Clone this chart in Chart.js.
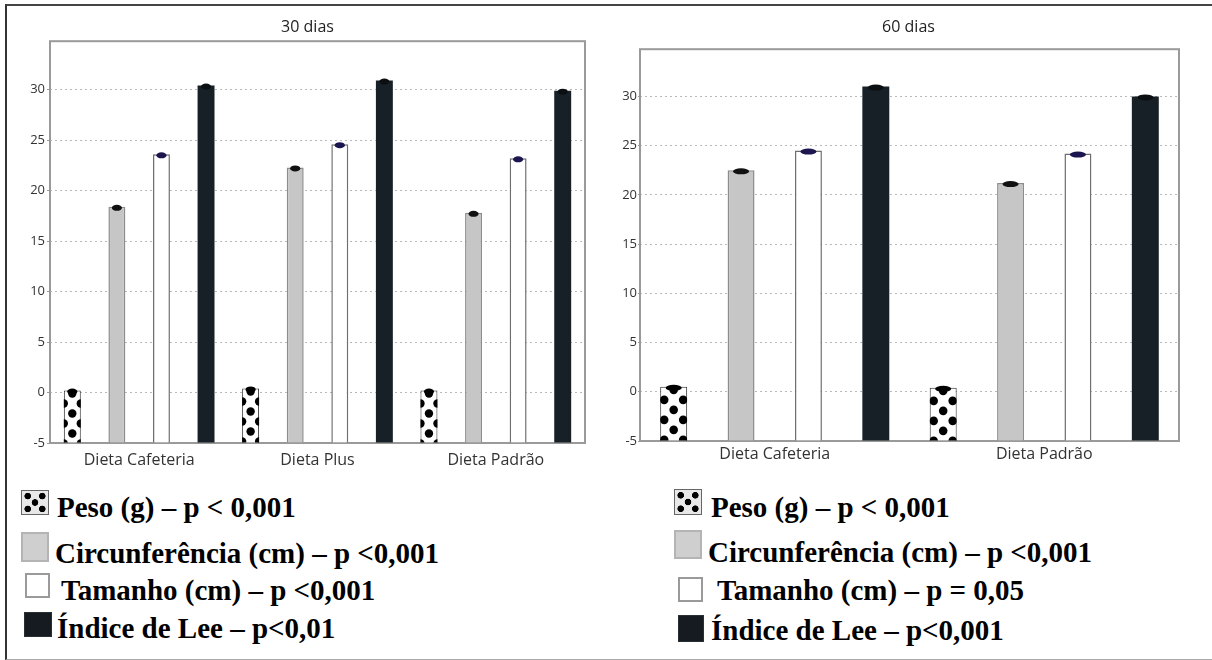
<!DOCTYPE html>
<html lang="pt">
<head>
<meta charset="utf-8">
<title>30 e 60 dias</title>
<script src="https://cdn.jsdelivr.net/npm/chart.js@4.4.1/dist/chart.umd.min.js"></script>
<style>
  html, body { margin: 0; padding: 0; background: #fff; }
  body { width: 1212px; height: 660px; position: relative; overflow: hidden; }
  #frame {
    position: absolute; left: 5px; top: 4px; width: 1240px; height: 653px;
    border-top: 2px solid #444; border-left: 2px solid #333; border-bottom: 1px solid #aaa;
  }
  canvas { position: absolute; top: 0; }
  #chart30 { left: 0; }
  #chart60 { left: 600px; }
  .leg {
    position: absolute; white-space: nowrap; color: #000;
    font-family: "Liberation Serif", "Times New Roman", serif;
    font-weight: bold; font-size: 29px; line-height: 29px;
  }
  .sw { position: absolute; box-sizing: border-box; }
  .sw.peso {
    border: 1px solid #666; background-color: #e8e8e8;
    background-image:
      radial-gradient(circle at 22% 22%, #000 3px, transparent 3.6px),
      radial-gradient(circle at 78% 22%, #000 3px, transparent 3.6px),
      radial-gradient(circle at 50% 50%, #000 3px, transparent 3.6px),
      radial-gradient(circle at 22% 78%, #000 3px, transparent 3.6px),
      radial-gradient(circle at 78% 78%, #000 3px, transparent 3.6px);
  }
  .sw.circ { border: 2px solid #b4b4b4; background: #cfcfcf; }
  .sw.tam { border: 2px solid #9a9a9a; background: #fff; }
  .sw.lee { border: 1px solid #2a2f33; background: #151b20; }
</style>
</head>
<body>
<div id="frame"></div>
<canvas id="chart30" width="600" height="480"></canvas>
<canvas id="chart60" width="612" height="480"></canvas>
<div id="legend"></div>

<script>
// categorias
const GROUPS_30 = ['Dieta Cafeteria', 'Dieta Plus', 'Dieta Padrão'];
const GROUPS_60 = ['Dieta Cafeteria', 'Dieta Padrão'];
const SERIES = ['Peso (g)', 'Circunferência (cm)', 'Tamanho (cm)', 'Índice de Lee'];

// valores - 30 dias
const PESO_30 = [0.2, 0.4, 0.2];
const CIRC_30 = [18.4, 22.3, 17.8];
const TAM_30 = [23.6, 24.6, 23.2];
const LEE_30 = [30.4, 30.9, 29.9];

// valores - 60 dias
const PESO_60 = [0.5, 0.4];
const CIRC_60 = [22.5, 21.2];
const TAM_60 = [24.5, 24.2];
const LEE_60 = [31.0, 30.0];

// eixo y
const Y_TICKS = [-5, 0, 5, 10, 15, 20, 25, 30];
const Y_MIN = -5;
const Y_MAX = 34.8;

// legendas
const LEGEND_30 = ['Peso (g) – p < 0,001', 'Circunferência (cm) – p <0,001', 'Tamanho (cm) – p <0,001', 'Índice de Lee – p<0,01'];
const LEGEND_60 = ['Peso (g) – p < 0,001', 'Circunferência (cm) – p <0,001', 'Tamanho (cm) – p = 0,05', 'Índice de Lee – p<0,001'];

// estilo de cada série
const seriesStyle = [
  { bg: '#ffffff', border: '#2a2a2a', bw: 1, cap: '#000000' },
  { bg: '#c6c6c6', border: '#8c8c8c', bw: 1.5, cap: '#111111' },
  { bg: '#ffffff', border: '#6e6e6e', bw: 1.5, cap: '#1c1650' },
  { bg: '#172026', border: '#172026', bw: 0, cap: '#0b0f12' }
];

// o eixo y é estreito: alarga a área de recorte dos rótulos
const labelAreaPlugin = {
  id: 'labelArea',
  afterLayout(chart) {
    chart.scales.y.left = 0;
  }
};

// moldura da área do gráfico
const framePlugin = {
  id: 'frame',
  beforeDatasetsDraw(chart) {
    const a = chart.chartArea;
    const ctx = chart.ctx;
    ctx.save();
    ctx.strokeStyle = '#9a9a9a';
    ctx.lineWidth = 2;
    ctx.strokeRect(a.left, a.top, a.right - a.left, a.bottom - a.top);
    ctx.restore();
  }
};

// bolinhas da série Peso
const dotsPlugin = {
  id: 'dots',
  afterDatasetDraw(chart, args, opts) {
    if (args.index !== 0) return;
    const ctx = chart.ctx;
    args.meta.data.forEach(bar => {
      const w = bar.width;
      const left = bar.x - w / 2;
      ctx.save();
      ctx.beginPath();
      ctx.rect(left, bar.y, w, bar.base - bar.y);
      ctx.clip();
      ctx.fillStyle = '#000';
      for (let k = 0; bar.y + 3 + k * 10 < bar.base + 6; k++) {
        const cy = bar.y + 3 + k * 10;
        const xs = k % 2 === 0 ? [bar.x - opts.dx, bar.x, bar.x + opts.dx] : [bar.x - opts.dx / 2, bar.x + opts.dx / 2];
        xs.forEach(cx => {
          ctx.beginPath();
          ctx.arc(cx, cy, opts.r, 0, Math.PI * 2);
          ctx.fill();
        });
      }
      ctx.restore();
    });
  }
};

// marcas de erro no topo das barras
const capPlugin = {
  id: 'caps',
  afterDatasetsDraw(chart) {
    const ctx = chart.ctx;
    chart.data.datasets.forEach((ds, i) => {
      const meta = chart.getDatasetMeta(i);
      meta.data.forEach(bar => {
        ctx.save();
        ctx.fillStyle = seriesStyle[i].cap;
        ctx.beginPath();
        ctx.ellipse(bar.x, bar.y + 1, bar.width * 0.3, 3, 0, 0, Math.PI * 2);
        ctx.fill();
        ctx.restore();
      });
    });
  }
};

function buildChart(id, cfg) {
  const datasets = cfg.values.map((vals, i) => ({
    label: SERIES[i],
    data: vals,
    base: Y_MIN,
    backgroundColor: seriesStyle[i].bg,
    borderColor: seriesStyle[i].border,
    borderWidth: seriesStyle[i].bw,
    barPercentage: cfg.barPct,
    categoryPercentage: 1
  }));

  return new Chart(document.getElementById(id), {
    type: 'bar',
    data: { labels: cfg.labels, datasets: datasets },
    plugins: [labelAreaPlugin, framePlugin, dotsPlugin, capPlugin],
    options: {
      responsive: false,
      animation: false,
      layout: { padding: cfg.padding },
      plugins: {
        legend: { display: false },
        tooltip: { enabled: false },
        title: {
          display: true,
          text: cfg.title,
          color: '#222',
          font: { family: 'Open Sans', size: 16, weight: 'normal' },
          padding: { top: 8, bottom: cfg.titleGap }
        },
        dots: { r: cfg.dotR, dx: cfg.dotDx }
      },
      scales: {
        x: {
          grid: { display: false, drawTicks: false },
          border: { display: false },
          ticks: {
            color: '#333',
            font: { family: 'Open Sans', size: 16 },
            padding: cfg.xPad
          },
          afterFit: function(scale) { scale.height = 30; }
        },
        y: {
          min: Y_MIN,
          max: Y_MAX,
          grid: { color: '#b8b8b8', lineWidth: 1, tickLength: cfg.tickLen, tickColor: '#999' },
          border: { display: false, dash: [2, 3] },
          ticks: {
            color: '#333',
            font: { family: 'Open Sans', size: 13 },
            padding: cfg.yPad
          },
          afterBuildTicks: function(scale) {
            scale.ticks = Y_TICKS.map(v => ({ value: v }));
          },
          afterFit: function(scale) { scale.width = cfg.yWidth; }
        }
      }
    }
  });
}

buildChart('chart30', {
  labels: GROUPS_30,
  values: [PESO_30, CIRC_30, TAM_30, LEE_30],
  title: '30 dias',
  padding: { left: 30, right: 15, top: 10, bottom: 7 },
  titleGap: 4,
  yWidth: 20,
  tickLen: 3,
  yPad: 2,
  xPad: 8,
  barPct: 0.38,
  dotR: 4.2,
  dotDx: 17
});

buildChart('chart60', {
  labels: GROUPS_60,
  values: [PESO_60, CIRC_60, TAM_60, LEE_60],
  title: '60 dias',
  padding: { left: 38, right: 33, top: 10, bottom: 9 },
  titleGap: 12,
  yWidth: 2,
  tickLen: 2,
  yPad: 1,
  xPad: 4,
  barPct: 0.4,
  dotR: 4.3,
  dotDx: 19
});

// legendas em HTML
const legendPos = [
  { texts: LEGEND_30, text: [[57, 493], [55, 539], [61, 576], [57, 614]],
    sw: [[21, 490, 28, 25], [21, 532, 28, 30], [25, 573, 25, 25], [24, 612, 28, 25]] },
  { texts: LEGEND_60, text: [[711, 493], [708, 538], [717, 576], [711, 616]],
    sw: [[674, 489, 28, 26], [674, 530, 28, 29], [678, 577, 25, 25], [678, 615, 26, 27]] }
];
const swClass = ['peso', 'circ', 'tam', 'lee'];
const legendEl = document.getElementById('legend');
legendPos.forEach(block => {
  block.texts.forEach((t, i) => {
    const s = block.sw[i];
    const sw = document.createElement('div');
    sw.className = 'sw ' + swClass[i];
    sw.style.cssText = `left:${s[0]}px;top:${s[1]}px;width:${s[2]}px;height:${s[3]}px;`;
    legendEl.appendChild(sw);
    const tx = document.createElement('div');
    tx.className = 'leg';
    tx.textContent = t;
    tx.style.left = block.text[i][0] + 'px';
    tx.style.top = block.text[i][1] + 'px';
    legendEl.appendChild(tx);
  });
});
</script>
</body>
</html>
